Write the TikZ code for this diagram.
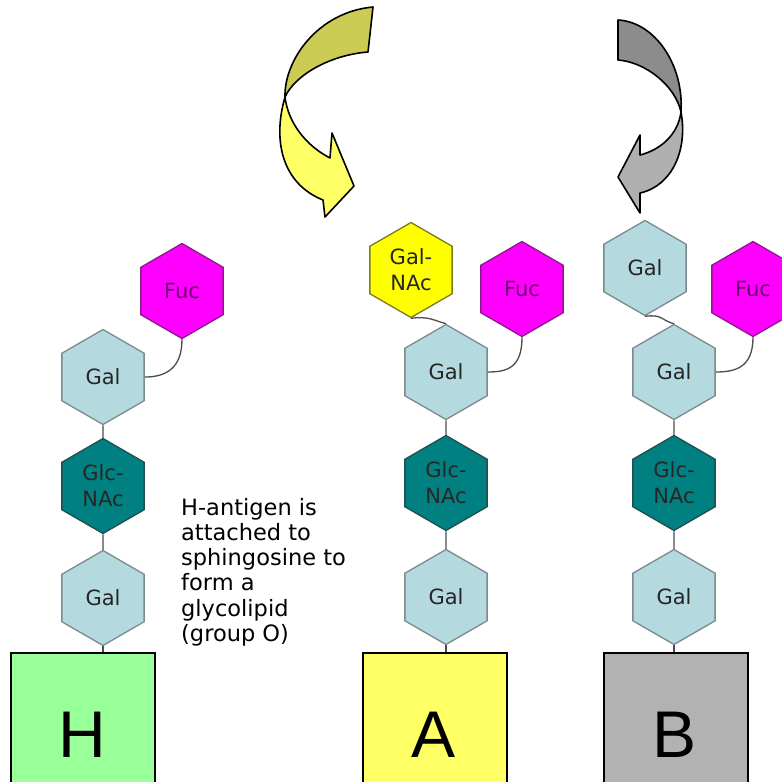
\documentclass[tikz,border=0pt]{standalone}
\usepackage{fontspec}
\setmainfont{DejaVu Sans}
\newfontfamily\boxfont{Liberation Sans}
\usetikzlibrary{shapes.geometric}
\definecolor{galfill}{HTML}{B4D9DF}
\definecolor{galdraw}{HTML}{7A8A8E}
\definecolor{glcfill}{HTML}{008080}
\definecolor{glcdraw}{HTML}{1F4F4F}
\definecolor{fucfill}{HTML}{FF00FF}
\definecolor{fucdraw}{HTML}{8A1A8A}
\definecolor{fuctext}{HTML}{6A006A}
\definecolor{galnacfill}{HTML}{FFFF00}
\definecolor{galnacdraw}{HTML}{7A7A20}
\definecolor{hfill}{HTML}{99FF99}
\definecolor{afill}{HTML}{FFFF66}
\definecolor{bfill}{HTML}{B2B2B2}
\definecolor{olive}{HTML}{CCCC55}
\definecolor{ylw}{HTML}{FFFF66}
\definecolor{dgray}{HTML}{8C8C8C}
\definecolor{lgray}{HTML}{B0B0B0}
\tikzset{
  hex/.style={regular polygon, regular polygon sides=6, shape border rotate=30,
    minimum size=95pt, inner sep=0pt, line width=1.3pt, align=center,
    font=\fontsize{21}{26}\selectfont},
  galhex/.style={hex, fill=galfill, draw=galdraw, text=black!85},
  glchex/.style={hex, fill=glcfill, draw=glcdraw, text=black!85},
  fuchex/.style={hex, fill=fucfill, draw=fucdraw, text=fuctext},
  galnachex/.style={hex, fill=galnacfill, draw=galnacdraw, text=black!85},
  base/.style={draw=black, line width=2pt, minimum width=144pt, minimum height=140pt,
    anchor=north west, inner sep=0pt},
  baselabel/.style={font=\boxfont\fontsize{66}{70}\selectfont},
  link/.style={draw=black!70, line width=1.3pt},
  arrowedge/.style={draw=black, line width=1.6pt, line join=round}
}
\begin{document}
\begin{tikzpicture}[x=1pt,y=-1pt]
\useasboundingbox (0,0) rectangle (782,782);
% ---------- bases ----------
\node[base, fill=hfill] (boxH) at (10,652) {};
\node[base, fill=afill] (boxA) at (362,652) {};
\node[base, fill=bfill] (boxB) at (603,652) {};
\node[baselabel] (lH) at (82,735) {H};
\node[baselabel] (lA) at (434,735) {A};
\node[baselabel] (lB) at (675,735) {B};
% ---------- column H ----------
\node[galhex] (hgal1) at (103,377) {Gal};
\node[glchex] (hglc) at (103,486) {Glc-\\NAc};
\node[galhex] (hgal2) at (103,598) {Gal};
\node[fuchex] (hfuc) at (182,291) {Fuc};
% ---------- column A ----------
\node[galnachex] (agalnac) at (411,270) {Gal-\\NAc};
\node[fuchex] (afuc) at (522,289) {Fuc};
\node[galhex] (agal1) at (446,372) {Gal};
\node[glchex] (aglc) at (446,483) {Glc-\\NAc};
\node[galhex] (agal2) at (446,597) {Gal};
% ---------- column B ----------
\node[galhex] (bgal0) at (645,268) {Gal};
\node[fuchex] (bfuc) at (753,289) {Fuc};
\node[galhex] (bgal1) at (674,372) {Gal};
\node[glchex] (bglc) at (674,483) {Glc-\\NAc};
\node[galhex] (bgal2) at (674,597) {Gal};
% ---------- links ----------
\foreach \a/\b in {hgal1/hglc, hglc/hgal2, agal1/aglc, aglc/agal2, bgal1/bglc, bglc/bgal2}
  \draw[link] (\a.270) -- (\b.90);
\draw[link] (hgal2.270) -- (hgal2.270 |- boxH.north);
\draw[link] (agal2.270) -- (agal2.270 |- boxA.north);
\draw[link] (bgal2.270) -- (bgal2.270 |- boxB.north);
\draw[link] (hfuc.270) .. controls +(0,30) and +(20,0) .. (hgal1.0);
\draw[link] (afuc.270) .. controls +(0,30) and +(20,0) .. (agal1.0);
\draw[link] (bfuc.270) .. controls +(0,30) and +(20,0) .. (bgal1.0);
\draw[link] (agalnac.270) .. controls +(18,-2) and +(-14,-4) .. (agal1.90);
\draw[link] (bgal0.270) .. controls +(18,-2) and +(-14,-4) .. (bgal1.90);
% ---------- text ----------
\node[anchor=north west, align=left, inner sep=0pt,
  font=\fontsize{22.5}{25.2}\selectfont] (note) at (181,498)
  {H-antigen is\\attached to\\sphingosine to\\form a\\glycolipid\\(group O)};
% ---------- yellow arrow ----------
\path[arrowedge, fill=olive] (373,7) -- (368,52)
  .. controls (330,55) and (295,75) .. (285,97)
  .. controls (284,60) and (318,12) .. (373,7) -- cycle;
\path[arrowedge, fill=ylw] (285,97)
  .. controls (272,142) and (283,184) .. (323,200)
  -- (325,217) -- (354,186) -- (332,133) -- (330,158)
  .. controls (305,145) and (288,122) .. (285,97) -- cycle;
% ---------- gray arrow ----------
\path[arrowedge, fill=dgray] (618,20) -- (618,60)
  .. controls (645,62) and (675,85) .. (681,112)
  .. controls (684,65) and (655,22) .. (618,20) -- cycle;
\path[arrowedge, fill=lgray] (681,112)
  .. controls (688,150) and (672,186) .. (640,193)
  -- (640,213) -- (618,177) -- (640,135) -- (640,155)
  .. controls (660,150) and (678,135) .. (681,112) -- cycle;
\end{tikzpicture}
\end{document}
